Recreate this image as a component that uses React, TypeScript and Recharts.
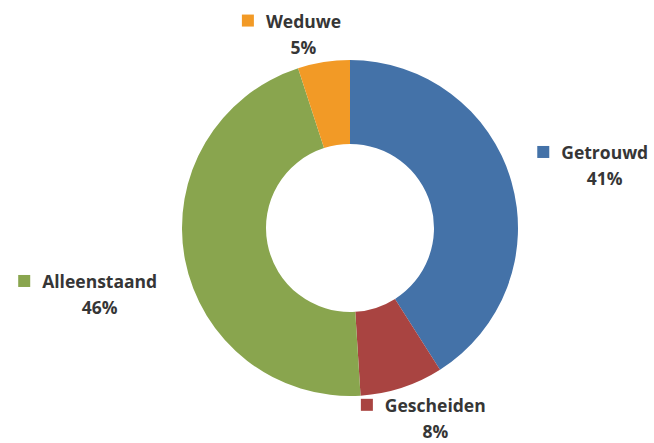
import { PieChart, Pie, Cell } from 'recharts'

const categories = ['Getrouwd', 'Gescheiden', 'Alleenstaand', 'Weduwe']
const shares = [41, 8, 46, 5]
const colors = ['#4472A8', '#A94441', '#89A54E', '#F29A26']

// Excel-style "best fit" label placement: offset from a point beyond the rim
const LABEL_NUDGE: [number, number][] = [
  [55, -5],
  [21, -8],
  [-46, 27],
  [-14, 11],
]

const FONT = "bold 17.5px 'Open Sans'"
const TEXT_COLOR = '#363636'

let ctx: CanvasRenderingContext2D | null = null
function textWidth(s: string) {
  if (!ctx) ctx = document.createElement('canvas').getContext('2d')
  if (!ctx) return s.length * 9
  ctx.font = FONT
  return ctx.measureText(s).width
}

const pieData = categories.map((name, i) => ({ name, value: shares[i] }))

interface LabelProps {
  cx?: number
  cy?: number
  midAngle?: number
  outerRadius?: number
  index?: number
  name?: string
  value?: number
}

function renderLabel({ cx = 0, cy = 0, midAngle = 0, outerRadius = 0, index = 0, name = '', value = 0 }: LabelProps) {
  const RADIAN = Math.PI / 180
  const r = outerRadius + 40
  const [dx, dy] = LABEL_NUDGE[index]
  const x = cx + r * Math.cos(-midAngle * RADIAN) + dx
  const y = cy + r * Math.sin(-midAngle * RADIAN) + dy
  const w = textWidth(name)
  const sq = 12
  return (
    <g>
      <rect x={x - w / 2 - 12 - sq} y={y - 13 - sq / 2} width={sq} height={sq} fill={colors[index]} />
      <text x={x} y={y - 13} textAnchor="middle" dominantBaseline="central"
        style={{ font: FONT }} fill={TEXT_COLOR}>
        {name}
      </text>
      <text x={x} y={y + 13} textAnchor="middle" dominantBaseline="central"
        style={{ font: FONT }} fill={TEXT_COLOR}>
        {`${value}%`}
      </text>
    </g>
  )
}

export default function App() {
  return (
    <div style={{ position: 'absolute', left: 0, top: 0, width: 654, height: 443, background: '#fff' }}>
      <PieChart width={654} height={443} margin={{ top: 0, right: 0, bottom: 0, left: 0 }}>
        <Pie
          data={pieData}
          dataKey="value"
          nameKey="name"
          cx={350}
          cy={228}
          innerRadius={84}
          outerRadius={168}
          startAngle={90}
          endAngle={-270}
          stroke="none"
          labelLine={false}
          label={renderLabel}
          isAnimationActive={false}
        >
          {pieData.map((_, i) => (
            <Cell key={i} fill={colors[i]} />
          ))}
        </Pie>
      </PieChart>
    </div>
  )
}
